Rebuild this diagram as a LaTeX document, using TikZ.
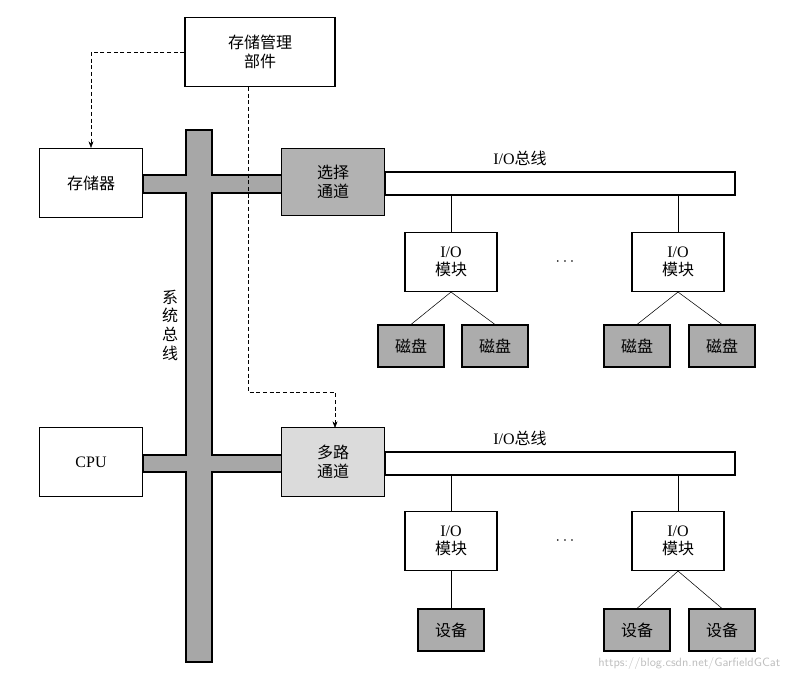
\documentclass[tikz,border=0pt]{standalone}
\usepackage{fontspec}
\setmainfont{Liberation Serif}
\newfontfamily\cjk{Noto Sans CJK SC}
\usetikzlibrary{arrows.meta}
\begin{document}
\begin{tikzpicture}[x=0.75pt,y=-0.75pt,
  box/.style={draw,thick,minimum width=103*0.75pt,minimum height=69*0.75pt,align=center,font=\large,inner sep=1pt},
  mod/.style={draw,thick,minimum width=92*0.75pt,minimum height=59*0.75pt,align=center,font=\large,inner sep=1pt},
  dev/.style={draw,thick,fill=gray!65,minimum width=66*0.75pt,minimum height=42*0.75pt,font=\large\cjk,inner sep=1pt},
  ln/.style={thin},
  dsh/.style={densely dashed,thin,-{Stealth[length=5pt]}}]
\useasboundingbox (0,0) rectangle (790,682);
% system bus cross
\draw[thick,fill=gray!85!black!60] (186,130) -- (212,130) -- (212,175) -- (282,175) -- (282,193) -- (212,193)
 -- (212,455) -- (282,455) -- (282,472) -- (212,472) -- (212,662) -- (186,662) -- (186,472) -- (143,472)
 -- (143,455) -- (186,455) -- (186,193) -- (143,193) -- (143,175) -- (186,175) -- cycle;
\node[font=\large\cjk,align=center,inner sep=0pt] (sb) at (170,325) {系\\统\\总\\线};
% I/O buses
\draw[thick,fill=white] (385,172) rectangle (735,195);
\draw[thick,fill=white] (385,452) rectangle (735,475);
\node (b1) at (520,158) {\large I/O{\cjk 总线}};
\node (b2) at (520,438) {\large I/O{\cjk 总线}};
% boxes
\node[box,minimum width=150*0.75pt,font=\large\cjk] (mm) at (260,52) {存储管理\\部件};
\node[box,font=\large\cjk] (mem) at (91,183) {存储器};
\node[box] (cpu) at (91,462) {CPU};
\node[box,fill=gray!60,font=\large\cjk,minimum height=67*0.75pt] (sel) at (333,182) {选择\\通道};
\node[box,fill=gray!28,font=\large\cjk] (mul) at (333,462) {多路\\通道};
% modules
\node[mod] (m1) at (451,262) {I/O\\{\cjk 模块}};
\node[mod] (m2) at (678,262) {I/O\\{\cjk 模块}};
\node[mod] (m3) at (451,541) {I/O\\{\cjk 模块}};
\node[mod] (m4) at (678,541) {I/O\\{\cjk 模块}};
\node (d1) at (565,262) {\large$\cdots$};
\node (d2) at (565,541) {\large$\cdots$};
\coordinate (t1) at (451,195); \coordinate (t2) at (678,195);
\coordinate (t3) at (451,475); \coordinate (t4) at (678,475);
\draw[ln] (t1) -- (m1.north); \draw[ln] (t2) -- (m2.north);
\draw[ln] (t3) -- (m3.north); \draw[ln] (t4) -- (m4.north);
% disks
\node[dev] (k1) at (411,346) {磁盘};
\node[dev] (k2) at (495,346) {磁盘};
\node[dev] (k3) at (637,346) {磁盘};
\node[dev] (k4) at (722,346) {磁盘};
\draw[ln] (m1.south) -- (k1.north); \draw[ln] (m1.south) -- (k2.north);
\draw[ln] (m2.south) -- (k3.north); \draw[ln] (m2.south) -- (k4.north);
% devices
\node[dev] (e1) at (451,630) {设备};
\node[dev] (e2) at (637,630) {设备};
\node[dev] (e3) at (722,630) {设备};
\draw[ln] (m3.south) -- (e1.north);
\draw[ln] (m4.south) -- (e2.north); \draw[ln] (m4.south) -- (e3.north);
% dashed
\coordinate (s1) at (248,87); \coordinate (s2) at (335,392); \coordinate (s3) at (335,428);
\draw[dsh] (mm.west) -| (mem.north);
\draw[dsh] (s1) |- (s2) -- (s3);
\node[gray!50,font=\small\sffamily,anchor=east] (wm) at (785,663) {https://blog.csdn.net/GarfieldGCat};
\end{tikzpicture}
\end{document}
